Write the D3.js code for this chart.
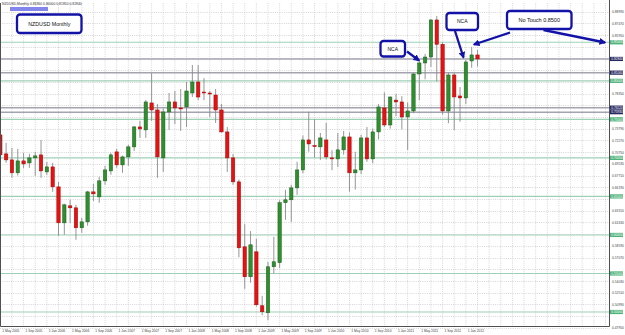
<!DOCTYPE html>
<html>
<head>
<meta charset="utf-8">
<script src="https://cdn.jsdelivr.net/npm/d3@7"></script>
<style>
  body { margin: 0; background: #fff; }
  svg { display: block; font-family: "Liberation Sans", Arial, sans-serif; }
</style>
</head>
<body>
<div id="chart"></div>
<script>
// NZDUSD monthly candles, May 2005 .. Mar 2012
const months = d3.timeMonth.range(new Date(2005, 4, 1), new Date(2012, 3, 1));
const open  = [.7298,.7052,.6974,.6806,.6961,.6935,.7000,.7039,.6818,.6883,.6624,.6157,.6378,.6352,.6093,.6170,.6559,.6494,.6702,.6831,
               .7078,.6909,.7013,.7143,.7402,.7363,.7713,.7622,.7000,.7596,.7726,.7648,.7661,.7842,.7985,.7855,.7842,.7816,.7622,.7337,
               .7000,.6689,.5846,.5457,.5781,.5081,.4990,.5587,.5640,.6418,.6456,.6611,.6844,.7233,.7160,.7143,.7233,.7000,.6987,.7104,
               .7272,.6806,.6844,.7259,.6987,.7337,.7648,.7427,.7750,.7726,.7531,.7609,.8089,.8232,.8309,.8790,.8474,.7609,.8076,.7804,
               .7778,.8258,.8336];
const high  = [.7390,.7195,.7128,.7117,.7065,.7052,.7078,.7233,.6948,.6935,.6689,.6404,.6456,.6391,.6222,.6572,.6663,.6754,.6896,.7065,
               .7117,.7030,.7170,.7415,.7480,.7752,.8100,.7700,.7640,.7842,.7868,.7893,.7985,.8206,.8206,.8035,.7868,.7894,.7700,.7400,
               .7050,.6720,.6140,.6049,.5950,.5210,.5650,.5975,.6450,.6586,.6650,.6950,.7290,.7600,.7500,.7323,.7453,.7100,.7323,.7350,
               .7330,.7080,.7300,.7400,.7380,.7700,.7850,.7800,.7830,.7800,.7720,.8100,.8270,.8350,.8800,.8842,.8500,.8110,.8100,.7920,
               .8270,.8440,.8400];
const low   = [.7010,.6935,.6741,.6770,.6870,.6870,.6767,.6741,.6780,.6559,.5989,.6002,.6157,.5937,.6028,.6120,.6442,.6417,.6650,.6780,
               .6870,.6806,.6896,.7091,.7260,.7260,.7480,.6741,.6818,.7363,.7440,.7350,.7400,.7790,.7750,.7750,.7530,.7453,.7330,.6818,
               .6650,.5710,.5300,.5380,.5070,.4960,.4895,.5500,.5570,.6196,.6170,.6520,.6800,.7080,.7000,.6974,.6980,.6840,.6880,.7040,
               .6560,.6588,.6790,.6950,.6930,.7240,.7400,.7380,.7540,.7370,.7103,.7580,.7750,.8020,.8180,.7990,.7560,.7450,.7360,.7470,
               .7700,.8170,.8185];
const close = [.7039,.6974,.6806,.6961,.6922,.7000,.7026,.6831,.6883,.6624,.6157,.6391,.6352,.6093,.6170,.6559,.6533,.6702,.6844,.7039,
               .6909,.7013,.7143,.7402,.7376,.7726,.7622,.7013,.7596,.7726,.7648,.7635,.7868,.7985,.7790,.7842,.7829,.7622,.7337,.7000,
               .6689,.5833,.5457,.5872,.5094,.5003,.5587,.5652,.6418,.6456,.6611,.6844,.7233,.7181,.7155,.7259,.7013,.6987,.7104,.7272,
               .6806,.6844,.7259,.6987,.7337,.7661,.7427,.7790,.7726,.7531,.7609,.8089,.8232,.8309,.8790,.8474,.7609,.8076,.7791,.7778,
               .8245,.8336,.8284];

const yTicks = [0.88990,0.87470,0.85950,0.84430,0.82910,0.81390,0.79870,0.78350,0.76830,0.75310,0.73790,0.72270,0.70750,0.69230,
                0.67710,0.66190,0.64670,0.63150,0.61630,0.60110,0.58590,0.57070,0.55550,0.54030,0.52510,0.50990,0.49470,0.47950];
const xLabels = ["1 May 2005","1 Sep 2005","1 Jan 2006","1 May 2006","1 Sep 2006","1 Jan 2007","1 May 2007","1 Sep 2007",
                 "1 Jan 2008","1 May 2008","1 Sep 2008","1 Jan 2009","1 May 2009","1 Sep 2009","1 Jan 2010","1 May 2010",
                 "1 Sep 2010","1 Jan 2011","1 May 2011","1 Sep 2011","1 Jan 2012"];
const greenLevels = [0.85, 0.80, 0.75, 0.70, 0.65, 0.60, 0.55, 0.50];
const greyLevels = [0.8106, 0.7652, 0.7593];
const lastPrice = 0.8284;

const W = 625, H = 335;
const plotRight = 609.5, plotBottom = 326.5;

const svg = d3.select("#chart").append("svg").attr("width", W).attr("height", H);

const x = d3.scaleLinear().domain([0, 82]).range([0.3, 477.5]);
const y = d3.scaleLinear().domain([0.85, 0.50]).range([42.3, 312]);

const data = months.map((m, i) => ({ i, m, o: open[i], h: high[i], l: low[i], c: close[i] }));

// grid
const grid = svg.append("g");
grid.selectAll(".hg").data(yTicks).enter().append("line")
  .attr("x1", 0).attr("x2", plotRight)
  .attr("y1", d => Math.round(y(d)) + 0.5).attr("y2", d => Math.round(y(d)) + 0.5)
  .attr("stroke", "#c4c4c4").attr("stroke-width", 0.7).attr("stroke-dasharray", "1,1.2");
grid.selectAll(".vg").data(d3.range(0, 106, 2)).enter().append("line")
  .filter(d => x(d) < plotRight)
  .attr("x1", d => x(d)).attr("x2", d => x(d))
  .attr("y1", 3).attr("y2", plotBottom)
  .attr("stroke", "#c4c4c4").attr("stroke-width", 0.7).attr("stroke-dasharray", "1,1.2");

// level lines
svg.selectAll(".gl").data(greenLevels).enter().append("line")
  .attr("x1", 0).attr("x2", plotRight)
  .attr("y1", d => y(d)).attr("y2", d => y(d))
  .attr("stroke", "#9fd0b8").attr("stroke-width", 1.1);
svg.selectAll(".gr").data(greyLevels.concat([lastPrice])).enter().append("line")
  .attr("x1", 0).attr("x2", plotRight)
  .attr("y1", d => y(d)).attr("y2", d => y(d))
  .attr("stroke", "#a4a4b0").attr("stroke-width", 1.5);

// candles
const cg = svg.append("g");
cg.selectAll(".wick").data(data).enter().append("line")
  .attr("x1", d => x(d.i)).attr("x2", d => x(d.i))
  .attr("y1", d => y(d.h)).attr("y2", d => y(d.l))
  .attr("stroke", "#8a8a8a").attr("stroke-width", 0.9);
cg.selectAll(".body").data(data).enter().append("rect")
  .attr("x", d => x(d.i) - 1.7).attr("width", 3.4)
  .attr("y", d => y(Math.max(d.o, d.c)))
  .attr("height", d => Math.max(1, Math.abs(y(d.o) - y(d.c))))
  .attr("fill", d => d.c >= d.o ? "#2f8f2f" : "#e01414")
  .attr("stroke", d => d.c >= d.o ? "#1b5e1b" : "#b00000")
  .attr("stroke-width", 0.5);

// frame
svg.append("path")
  .attr("d", `M0.5,3 V${plotBottom} H${plotRight} V0`)
  .attr("fill", "none").attr("stroke", "#505050").attr("stroke-width", 1);

// price boxes sit on top of the scale and hide the labels underneath
const boxLevels = greenLevels.concat(greyLevels, [lastPrice]);
const visibleTicks = yTicks.filter(t => boxLevels.every(b => Math.abs(y(t) - y(b)) > 4.6));

// axes
const yAxis = d3.axisRight(y).tickValues(visibleTicks).tickSize(0).tickPadding(2.5)
  .tickFormat(d3.format(".5f"));
const ya = svg.append("g").attr("transform", `translate(${plotRight},0)`).call(yAxis);
ya.select(".domain").remove();
ya.selectAll("text").attr("font-size", 3.3).attr("fill", "#444").attr("font-family", "Liberation Sans, Arial");

const xAxis = d3.axisBottom(x).tickValues(d3.range(0, 81, 4)).tickSize(0).tickPadding(3.2)
  .tickFormat((d, i) => xLabels[i]);
const xa = svg.append("g").attr("transform", `translate(0,${plotBottom})`).call(xAxis);
xa.select(".domain").remove();
xa.selectAll("text").attr("font-size", 3.3).attr("fill", "#444").attr("text-anchor", "start")
  .attr("dx", 1.4).attr("font-family", "Liberation Sans, Arial");

// price labels on the axis
function priceBox(v, fill) {
  const g = svg.append("g").attr("transform", `translate(${plotRight + 0.5},${y(v)})`);
  g.append("rect").attr("x", 0).attr("y", -2.1).attr("width", 13).attr("height", 4.2).attr("fill", fill);
  g.append("text").attr("x", 1.3).attr("y", 1.15).attr("font-size", 3.2).attr("fill", "#fff")
    .text(d3.format(".5f")(v));
}
greenLevels.forEach(v => priceBox(v, "#4fb37a"));
greyLevels.forEach(v => priceBox(v, "#262660"));
priceBox(lastPrice, "#262660");

// header
svg.append("text").attr("x", 2).attr("y", 5).attr("font-size", 3.4).attr("fill", "#333")
  .text("NZDUSD,Monthly  0.83360 0.84000 0.81850 0.82840");
svg.append("rect").attr("x", 10).attr("y", 7).attr("width", 38).attr("height", 4).attr("fill", "#8585ee");

// annotations
const navy = "#1212a8";
svg.append("defs").append("marker")
  .attr("id", "ah").attr("viewBox", "0 0 10 10").attr("refX", 8).attr("refY", 5)
  .attr("markerWidth", 3).attr("markerHeight", 3).attr("orient", "auto")
  .append("path").attr("d", "M0,0 L10,5 L0,10 z").attr("fill", navy);

function note(bx, by, bw, bh, label, fs) {
  svg.append("rect").attr("x", bx).attr("y", by).attr("width", bw).attr("height", bh)
    .attr("rx", 3).attr("fill", "#fff").attr("stroke", navy).attr("stroke-width", 2.3);
  svg.append("text").attr("x", bx + bw / 2).attr("y", by + bh / 2 + fs * 0.35)
    .attr("text-anchor", "middle").attr("font-size", fs).attr("fill", "#111").text(label);
}
function arrow(x1, y1, x2, y2) {
  svg.append("line").attr("x1", x1).attr("y1", y1).attr("x2", x2).attr("y2", y2)
    .attr("stroke", navy).attr("stroke-width", 2.3).attr("marker-end", "url(#ah)");
}

note(17, 14.5, 64.5, 18.5, "NZDUSD Monthly", 5.3);
note(380.5, 41, 24.5, 15.5, "NCA", 5);
note(446.5, 13, 31.5, 17, "NCA", 5);
note(507, 11, 64.5, 18, "No Touch 0.8500", 5.5);
arrow(407, 51.5, 419, 60.5);
arrow(455, 31, 463.5, 57.5);
arrow(510, 32.5, 474, 44.5);
arrow(543.5, 30, 605, 42.5);
</script>
</body>
</html>
